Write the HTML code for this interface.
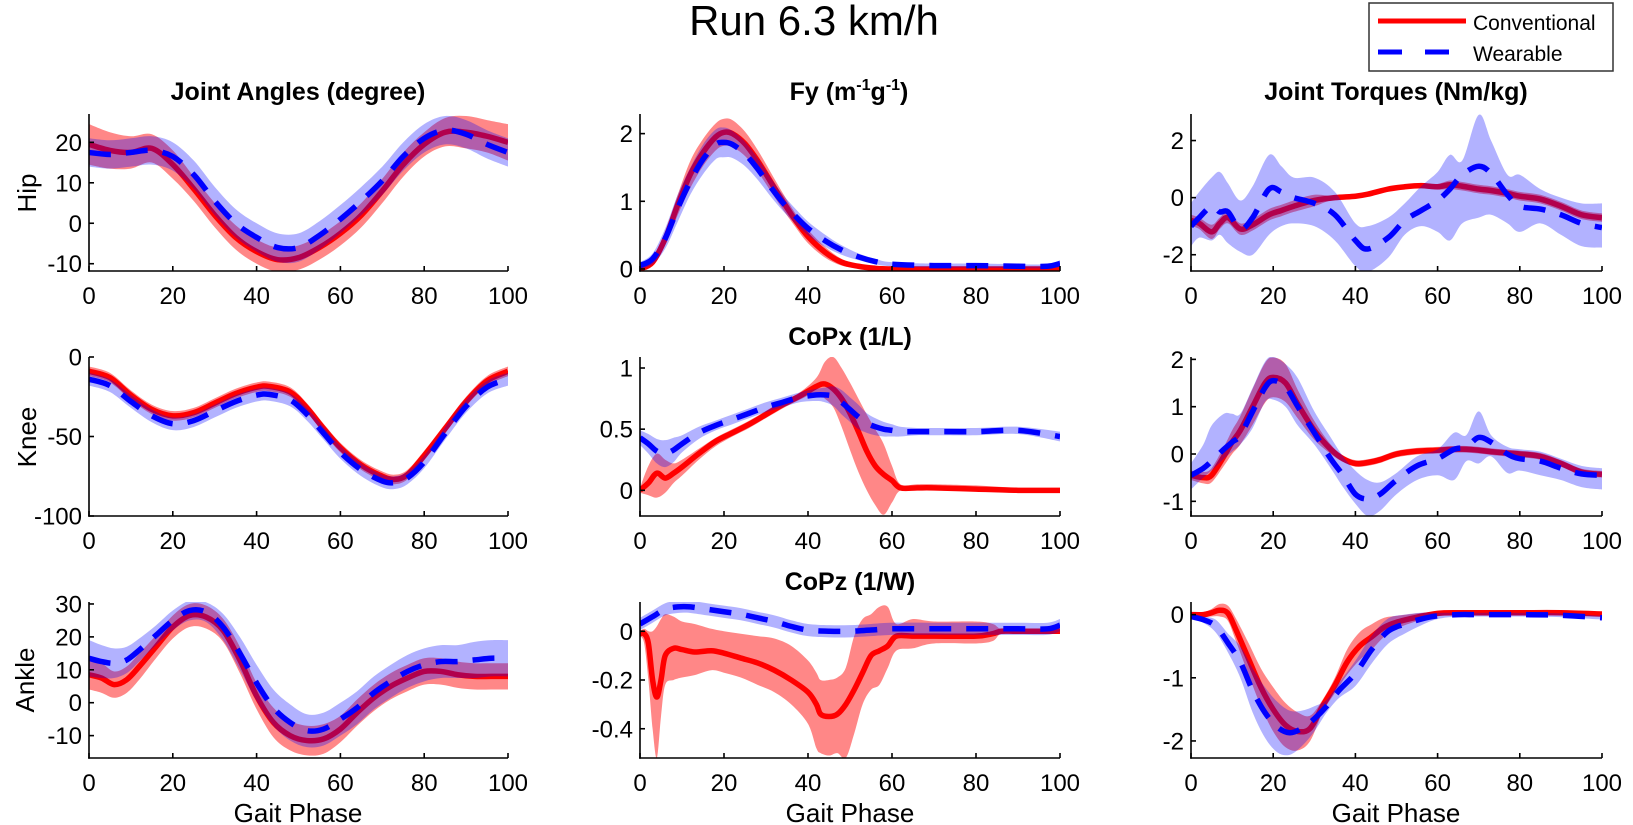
<!DOCTYPE html>
<html><head><meta charset="utf-8"><title>Run 6.3 km/h</title>
<style>
html,body{margin:0;padding:0;background:#fff;}
svg{display:block;font-family:"Liberation Sans",Arial,sans-serif;}
</style></head>
<body>
<svg id="fig" width="1633" height="825" viewBox="0 0 1633 825" xmlns="http://www.w3.org/2000/svg">
<rect x="0" y="0" width="1633" height="825" fill="#fff"/>
<text x="814" y="35" font-size="42" text-anchor="middle">Run 6.3 km/h</text>
<g>
<rect x="1369" y="3" width="244" height="68" fill="#fff" stroke="#333" stroke-width="1.5"/>
<line x1="1378" y1="21" x2="1466" y2="21" stroke="#ff0000" stroke-width="5"/>
<text x="1473" y="30" font-size="21">Conventional</text>
<line x1="1378" y1="52" x2="1466" y2="52" stroke="#0000ff" stroke-width="5" stroke-dasharray="24 23"/>
<text x="1473" y="61" font-size="21">Wearable</text>
</g>
<text x="298" y="100" font-size="25" font-weight="bold" text-anchor="middle">Joint Angles (degree)</text>
<text x="849" y="100" font-size="25" font-weight="bold" text-anchor="middle">Fy (m<tspan font-size="16" dy="-10">-1</tspan><tspan dy="10">g</tspan><tspan font-size="16" dy="-10">-1</tspan><tspan dy="10">)</tspan></text>
<text x="1396" y="100" font-size="25" font-weight="bold" text-anchor="middle">Joint Torques (Nm/kg)</text>
<text x="850" y="345" font-size="25" font-weight="bold" text-anchor="middle">CoPx (1/L)</text>
<text x="850" y="590" font-size="25" font-weight="bold" text-anchor="middle">CoPz (1/W)</text>
<text transform="translate(27,193) rotate(-90)" font-size="26" text-anchor="middle" dominant-baseline="central">Hip</text>
<text transform="translate(27,437) rotate(-90)" font-size="26" text-anchor="middle" dominant-baseline="central">Knee</text>
<text transform="translate(25,680) rotate(-90)" font-size="26" text-anchor="middle" dominant-baseline="central">Ankle</text>
<text x="298" y="822" font-size="26" text-anchor="middle">Gait Phase</text>
<text x="850" y="822" font-size="26" text-anchor="middle">Gait Phase</text>
<text x="1396" y="822" font-size="26" text-anchor="middle">Gait Phase</text>
</svg>
<script>
// ---------- data ----------
const xTicks = [0,20,40,60,80,100];

// Hip angle
const hipAngX = [0,5,10,15,20,25,30,35,40,45,50,55,60,65,70,75,80,85,90,95,100];
const hipAngConvMean = [19.5,18,17.5,18.5,14.5,8.5,2,-3.5,-7,-9,-8.5,-6,-2.5,2,8,14.5,19.5,22.5,22.5,21.5,20];
const hipAngConvSd = [5,4.5,4,3.5,3.5,3,3,3,3,3,3,3,3,3,3,3,3,3.5,4,4,4.5];
const hipAngWearMean = [17.5,17,17.5,18,16.5,12,5.5,0,-3.5,-6,-6,-3,1,5.5,10.5,16.5,21,23,22,19.5,17.5];
const hipAngWearSd = [3.5,3.5,3.5,3.5,3.5,3.5,3.5,3.5,3.5,3.5,3.5,3.5,3.5,3.5,3.5,3.5,3.5,3.5,3.5,3.5,3.5];
const hipAngTicks = [-10,0,10,20];

// Fy
const fyX = [0,3,6,9,12,15,18,20,22,25,28,31,34,37,40,44,48,52,56,60,70,80,90,97,100];
const fyConvMean = [0,0.1,0.45,0.95,1.4,1.72,1.95,2.02,2.0,1.85,1.6,1.3,1.0,0.72,0.48,0.25,0.1,0.04,0.01,0,0,0,0,0,0];
const fyConvSd = [0.02,0.05,0.1,0.15,0.2,0.2,0.2,0.2,0.2,0.18,0.16,0.14,0.12,0.1,0.1,0.08,0.05,0.03,0.02,0.01,0.01,0.01,0.01,0.01,0.01];
const fyWearMean = [0.05,0.15,0.45,0.9,1.3,1.62,1.84,1.87,1.84,1.7,1.48,1.22,0.98,0.78,0.6,0.42,0.28,0.18,0.11,0.07,0.05,0.05,0.04,0.04,0.08];
const fyWearSd = [0.05,0.08,0.15,0.2,0.2,0.22,0.22,0.22,0.2,0.18,0.16,0.14,0.12,0.11,0.1,0.09,0.07,0.05,0.04,0.03,0.03,0.03,0.03,0.03,0.05];
const fyTicks = [0,1,2];

// Hip torque
const hipTqX = [0,2,5,7,9,12,15,19,22,25,30,35,40,43,48,52,56,60,63,66,70,73,77,80,85,90,95,100];
const hipTqConvMean = [-0.8,-0.9,-1.2,-0.9,-0.7,-1.1,-0.95,-0.6,-0.45,-0.3,-0.1,0,0.05,0.12,0.3,0.38,0.42,0.38,0.45,0.4,0.3,0.25,0.15,0.05,-0.05,-0.3,-0.6,-0.7];
const hipTqConvSd = [0.2,0.2,0.25,0.2,0.2,0.2,0.2,0.2,0.2,0.2,0.2,0.05,0.05,0.05,0.05,0.05,0.05,0.1,0.15,0.15,0.15,0.15,0.15,0.15,0.15,0.15,0.15,0.15];
const hipTqWearMean = [-1.0,-0.7,-0.3,-0.5,-0.5,-1.1,-0.7,0.3,0.2,0.0,-0.2,-0.6,-1.5,-1.8,-1.4,-0.8,-0.45,-0.1,0.3,0.8,1.1,0.85,0.1,-0.3,-0.4,-0.6,-0.9,-1.05];
const hipTqWearHi = [-0.2,0.2,0.7,0.9,0.5,-0.1,0.4,1.5,1.1,0.7,0.7,0.2,-0.9,-1.0,-0.7,-0.2,0.4,0.9,1.5,1.3,2.9,2.0,0.8,0.8,0.3,0.0,-0.2,-0.2];
const hipTqWearLo = [-1.7,-1.4,-1.5,-1.3,-1.6,-1.9,-2.0,-1.3,-1.0,-0.9,-1.0,-1.5,-2.4,-2.6,-2.1,-1.3,-1.0,-1.2,-1.5,-0.9,-0.7,-0.6,-0.9,-1.2,-0.9,-1.3,-1.7,-1.75];
const hipTqTicks = [-2,0,2];

// Knee angle
const kneeAngX = [0,5,10,15,20,25,30,35,40,43,48,52,56,60,65,70,73,76,80,85,90,95,100];
const kneeAngConvMean = [-9,-13,-24,-33,-37,-35,-29,-23,-19,-18.5,-22,-32,-45,-57,-68,-75,-77,-74,-62,-45,-28,-15,-9];
const kneeAngConvSd = [3,3,3,3,3,3,3,3,3,3,3,3,3,3,3,3,3,3,3,3,3,3,3];
const kneeAngWearMean = [-14,-18,-28,-37,-42,-40,-34,-28,-24,-23.5,-27,-36,-48,-60,-71,-78,-79,-76,-66,-48,-31,-19,-14];
const kneeAngWearSd = [4,4,4,4,4,4,4,4,4,4,4,4,4,4,4,4,4,4,4,4,4,4,4];
const kneeAngTicks = [-100,-50,0];

// CoPx
const copxX = [0,2,4,6,8,10,14,18,22,26,30,34,38,42,44,46,48,50,52,54,56,58,60,62,66,70,80,90,100];
const copxConvMean = [0,0.06,0.14,0.1,0.14,0.19,0.3,0.4,0.47,0.54,0.62,0.7,0.77,0.85,0.87,0.83,0.75,0.63,0.48,0.32,0.2,0.13,0.08,0.02,0.02,0.02,0.01,0,0];
const copxConvHi = [0.02,0.2,0.3,0.25,0.22,0.25,0.34,0.43,0.5,0.57,0.65,0.73,0.8,0.92,1.05,1.09,1.0,0.88,0.75,0.62,0.5,0.38,0.2,0.05,0.05,0.05,0.04,0.02,0.02];
const copxConvLo = [-0.02,-0.04,-0.06,-0.02,0.06,0.12,0.25,0.36,0.44,0.51,0.59,0.67,0.74,0.8,0.75,0.68,0.52,0.33,0.15,0.0,-0.12,-0.2,-0.1,0,0,0,-0.01,-0.02,-0.02];
const copxWearMean = [0.43,0.38,0.32,0.3,0.33,0.38,0.47,0.53,0.58,0.63,0.68,0.72,0.76,0.78,0.78,0.77,0.72,0.66,0.6,0.55,0.52,0.5,0.49,0.48,0.48,0.48,0.48,0.49,0.44];
const copxWearSd = [0.06,0.08,0.1,0.11,0.1,0.07,0.05,0.04,0.04,0.04,0.04,0.04,0.04,0.05,0.06,0.08,0.1,0.1,0.1,0.08,0.07,0.06,0.05,0.04,0.03,0.03,0.03,0.03,0.04];
const copxTicks = [0,0.5,1];

// Knee torque
const kneeTqX = [0,3,5,8,10,12,15,18,20,23,26,30,34,37,40,43,46,50,55,60,64,67,70,73,77,80,85,90,95,100];
const kneeTqConvMean = [-0.45,-0.5,-0.45,-0.05,0.25,0.5,1.0,1.5,1.62,1.5,1.05,0.5,0.1,-0.1,-0.2,-0.18,-0.12,0.0,0.06,0.08,0.1,0.1,0.08,0.05,0.02,0.0,-0.05,-0.2,-0.38,-0.43];
const kneeTqConvSd = [0.1,0.12,0.15,0.2,0.25,0.3,0.38,0.42,0.42,0.4,0.3,0.2,0.1,0.07,0.07,0.07,0.07,0.07,0.07,0.07,0.07,0.07,0.07,0.07,0.07,0.07,0.07,0.07,0.07,0.07];
const kneeTqWearMean = [-0.45,-0.3,-0.15,0.1,0.25,0.4,0.9,1.4,1.55,1.42,1.0,0.45,-0.1,-0.45,-0.85,-0.95,-0.85,-0.55,-0.25,-0.1,0.1,0.15,0.35,0.25,0.0,-0.1,-0.15,-0.3,-0.42,-0.45];
const kneeTqWearHi = [-0.2,0.2,0.6,0.85,0.85,0.85,1.4,1.95,2.05,1.9,1.6,0.9,0.35,-0.05,-0.35,-0.55,-0.6,-0.4,-0.05,0.1,0.45,0.4,0.9,0.4,0.15,0.1,0.05,-0.1,-0.25,-0.3];
const kneeTqWearLo = [-0.75,-0.5,-0.35,-0.1,0.05,0.2,0.55,1.1,1.15,1.0,0.6,0.2,-0.3,-0.7,-1.05,-1.31,-1.2,-0.85,-0.55,-0.45,-0.55,-0.15,-0.2,-0.05,-0.4,-0.35,-0.45,-0.55,-0.7,-0.75];
const kneeTqTicks = [-1,0,1,2];

// Ankle angle
const ankAngX = [0,3,6,9,12,16,20,24,28,32,36,40,44,48,52,56,60,64,68,72,76,80,84,88,92,96,100];
const ankAngConvMean = [8.5,7.5,5.5,7,11,17,23,26.5,26,22,13,2,-6,-10,-11.5,-11,-8,-3,1.5,5,7.5,9.5,9.5,8.5,8,8,8];
const ankAngConvSd = [4.5,4.5,4,4,4,3.5,3.5,3.5,3.5,3.5,4,4,4.5,4.5,4.5,4.5,4,4,4,4,4,4,4,4,4,4,4];
const ankAngWearMean = [13.5,12.5,12,13,16,20.5,25,28,27.5,23,15,6,-1.5,-6,-8.5,-8,-5,-1.5,3,6.5,9.5,11.5,12.5,12.5,13,13.5,13.5];
const ankAngWearSd = [5.5,5,4.5,4,3.5,3,3,3,3,4,5,5.5,5.5,5.5,5,5,5,5,5,5,5,5,5,5,5.5,5.5,5.5];
const ankAngTicks = [-10,0,10,20,30];

// CoPz
const copzConvX = [0,1,2,3,4,5,6,8,10,13,17,20,24,28,32,36,40,42,43,45,47,49,51,53,55,57,59,61,65,70,80,84,86,90,100];
const copzConvMean = [-0.01,-0.01,-0.05,-0.2,-0.27,-0.2,-0.1,-0.07,-0.075,-0.085,-0.08,-0.09,-0.11,-0.13,-0.16,-0.2,-0.25,-0.3,-0.34,-0.35,-0.34,-0.3,-0.24,-0.17,-0.1,-0.08,-0.06,-0.02,-0.02,-0.02,-0.02,-0.01,0,0,0];
const copzConvHi = [0,0.01,0,0,0.02,0.05,0.07,0.06,0.04,0.03,0.01,0,-0.01,-0.02,-0.03,-0.06,-0.12,-0.17,-0.2,-0.2,-0.19,-0.15,-0.02,0.05,0.07,0.1,0.1,0.03,0.05,0.04,0.04,0.03,0.01,0.01,0.01];
const copzConvLo = [-0.02,-0.05,-0.2,-0.4,-0.52,-0.35,-0.22,-0.2,-0.19,-0.18,-0.16,-0.17,-0.19,-0.22,-0.25,-0.3,-0.38,-0.48,-0.5,-0.51,-0.5,-0.52,-0.42,-0.3,-0.24,-0.22,-0.15,-0.08,-0.07,-0.05,-0.05,-0.04,-0.01,-0.01,-0.01];
const copzWearX = [0,3,6,9,12,16,20,24,28,32,36,40,45,50,55,60,70,80,90,97,100];
const copzWearMean = [0.03,0.06,0.09,0.1,0.1,0.09,0.08,0.07,0.055,0.04,0.02,0.005,0,0,0.005,0.01,0.01,0.01,0.01,0.01,0.025];
const copzWearSd = [0.025,0.025,0.025,0.025,0.025,0.025,0.025,0.025,0.025,0.025,0.025,0.025,0.025,0.025,0.025,0.025,0.025,0.025,0.025,0.025,0.025];
const copzTicks = [-0.4,-0.2,0];

// Ankle torque
const ankTqConvX = [0,3,5,7,9,11,14,17,20,23,26,29,32,35,38,41,44,47,50,55,60,65,70,80,90,100];
const ankTqConvMean = [0,0,0.03,0.07,0.02,-0.25,-0.7,-1.15,-1.5,-1.75,-1.85,-1.8,-1.45,-1.12,-0.75,-0.5,-0.35,-0.2,-0.12,-0.04,0.02,0.03,0.03,0.03,0.03,0.01];
const ankTqConvSd = [0.03,0.04,0.06,0.1,0.12,0.18,0.25,0.3,0.35,0.35,0.3,0.2,0.1,0.12,0.2,0.22,0.2,0.15,0.1,0.06,0.03,0.03,0.03,0.03,0.03,0.03];
const ankTqWearX = [0,3,6,9,12,15,18,21,24,27,30,33,36,40,44,48,52,56,60,65,70,80,90,100];
const ankTqWearMean = [-0.03,-0.08,-0.18,-0.45,-0.75,-1.2,-1.55,-1.78,-1.87,-1.8,-1.65,-1.45,-1.2,-0.93,-0.55,-0.26,-0.15,-0.07,-0.02,0,0,0,-0.01,-0.05];
const ankTqWearSd = [0.03,0.05,0.1,0.15,0.25,0.35,0.4,0.4,0.35,0.28,0.2,0.1,0.12,0.2,0.22,0.2,0.15,0.1,0.05,0.03,0.03,0.03,0.03,0.03];
const ankTqTicks = [-2,-1,0];

// ---------- layout ----------
const COLS = [[89,508],[640,1060],[1191,1602]];
const ROWS = [[114,271],[357,516],[602,758]];
const panels = [
 {name:'hip-angle', c:0, r:0, y:[-11.8,27.0], ticks:hipAngTicks,
  conv:{x:hipAngX, m:hipAngConvMean, sd:hipAngConvSd}, wear:{x:hipAngX, m:hipAngWearMean, sd:hipAngWearSd}},
 {name:'fy', c:1, r:0, y:[-0.03,2.29], ticks:fyTicks,
  conv:{x:fyX, m:fyConvMean, sd:fyConvSd}, wear:{x:fyX, m:fyWearMean, sd:fyWearSd}},
 {name:'hip-torque', c:2, r:0, y:[-2.57,2.93], ticks:hipTqTicks,
  conv:{x:hipTqX, m:hipTqConvMean, sd:hipTqConvSd}, wear:{x:hipTqX, m:hipTqWearMean, lo:hipTqWearLo, hi:hipTqWearHi}},
 {name:'knee-angle', c:0, r:1, y:[-100,0], ticks:kneeAngTicks,
  conv:{x:kneeAngX, m:kneeAngConvMean, sd:kneeAngConvSd}, wear:{x:kneeAngX, m:kneeAngWearMean, sd:kneeAngWearSd}},
 {name:'copx', c:1, r:1, y:[-0.21,1.09], ticks:copxTicks,
  conv:{x:copxX, m:copxConvMean, lo:copxConvLo, hi:copxConvHi}, wear:{x:copxX, m:copxWearMean, sd:copxWearSd}},
 {name:'knee-torque', c:2, r:1, y:[-1.31,2.05], ticks:kneeTqTicks,
  conv:{x:kneeTqX, m:kneeTqConvMean, sd:kneeTqConvSd}, wear:{x:kneeTqX, m:kneeTqWearMean, lo:kneeTqWearLo, hi:kneeTqWearHi}},
 {name:'ankle-angle', c:0, r:2, y:[-16.8,30.6], ticks:ankAngTicks,
  conv:{x:ankAngX, m:ankAngConvMean, sd:ankAngConvSd}, wear:{x:ankAngX, m:ankAngWearMean, sd:ankAngWearSd}},
 {name:'copz', c:1, r:2, y:[-0.52,0.12], ticks:copzTicks,
  conv:{x:copzConvX, m:copzConvMean, lo:copzConvLo, hi:copzConvHi}, wear:{x:copzWearX, m:copzWearMean, sd:copzWearSd}},
 {name:'ankle-torque', c:2, r:2, y:[-2.27,0.2], ticks:ankTqTicks,
  conv:{x:ankTqConvX, m:ankTqConvMean, sd:ankTqConvSd}, wear:{x:ankTqWearX, m:ankTqWearMean, sd:ankTqWearSd}}
];

const NS = 'http://www.w3.org/2000/svg';
const svg = document.getElementById('fig');
const defs = document.createElementNS(NS,'defs');
svg.appendChild(defs);

function mk(tag, attrs, parent){
  const e = document.createElementNS(NS, tag);
  for (const k in attrs) e.setAttribute(k, attrs[k]);
  parent.appendChild(e);
  return e;
}
function crPath(pts, move){
  let d = move ? 'M'+pts[0][0].toFixed(2)+','+pts[0][1].toFixed(2) : 'L'+pts[0][0].toFixed(2)+','+pts[0][1].toFixed(2);
  for (let i=0;i<pts.length-1;i++){
    const p0=pts[Math.max(0,i-1)], p1=pts[i], p2=pts[i+1], p3=pts[Math.min(pts.length-1,i+2)];
    const c1x=p1[0]+(p2[0]-p0[0])/6, c1y=p1[1]+(p2[1]-p0[1])/6;
    const c2x=p2[0]-(p3[0]-p1[0])/6, c2y=p2[1]-(p3[1]-p1[1])/6;
    d+=' C'+c1x.toFixed(2)+','+c1y.toFixed(2)+' '+c2x.toFixed(2)+','+c2y.toFixed(2)+' '+p2[0].toFixed(2)+','+p2[1].toFixed(2);
  }
  return d;
}
function fmt(v){ return (Math.round(v*100)/100).toString(); }

panels.forEach((p, idx)=>{
  const [x0,x1] = COLS[p.c], [yT,yB] = ROWS[p.r];
  const sx = v => x0 + (v/100)*(x1-x0);
  const sy = v => yB - (v - p.y[0])/(p.y[1]-p.y[0])*(yB-yT);
  const g = mk('g', {}, svg);
  
  
  const cp = mk('clipPath', {id:'clip'+idx}, defs);
  mk('rect', {x:x0, y:yT, width:x1-x0, height:yB-yT}, cp);
  const plot = mk('g', {'clip-path':'url(#clip'+idx+')'}, g);
  
  

  function band(s, color, op, nm){
    const lo = s.lo ? s.lo : s.m.map((v,i)=>v - s.sd[i]);
    const hi = s.hi ? s.hi : s.m.map((v,i)=>v + s.sd[i]);
    const up = s.x.map((xv,i)=>[sx(xv), sy(hi[i])]);
    const dn = s.x.map((xv,i)=>[sx(xv), sy(lo[i])]).reverse();
    const d = crPath(up,true)+' '+crPath(dn,false)+' Z';
    const e = mk('path', {d:d, fill:color, 'fill-opacity':op, stroke:'none'}, plot);
    
    
  }
  function line(s, color, dash, nm){
    const pts = s.x.map((xv,i)=>[sx(xv), sy(s.m[i])]);
    const e = mk('path', {d:crPath(pts,true), fill:'none', stroke:color, 'stroke-width':5.5, 'stroke-linejoin':'round'}, plot);
    if (dash) e.setAttribute('stroke-dasharray', dash);
    
    
  }
  band(p.conv, '#ff0000', 0.47, 'conventional-band-'+p.name);
  line(p.conv, '#ff0000', null, 'conventional-line-'+p.name);
  band(p.wear, '#0000ff', 0.3, 'wearable-band-'+p.name);
  line(p.wear, '#0000ff', '22 15', 'wearable-line-'+p.name);

  // axes
  const ax = mk('g', {stroke:'#000', 'stroke-width':1.6}, g);
  
  
  const yl = mk('line', {x1:x0, y1:yT, x2:x0, y2:yB+0.8}, ax);
  
  
  const xl = mk('line', {x1:x0-0.8, y1:yB, x2:x1, y2:yB}, ax);
  
  
  xTicks.forEach(t=>{
    const X = sx(t);
    const tk = mk('line', {x1:X, y1:yB, x2:X, y2:yB-5}, ax);
    
    
    const tl = mk('text', {x:X, y:yB+33, 'font-size':24, 'text-anchor':'middle', fill:'#000', stroke:'none'}, g);
    tl.textContent = fmt(t);
    
    
  });
  p.ticks.forEach(t=>{
    const Y = sy(t);
    const tk = mk('line', {x1:x0, y1:Y, x2:x0+5, y2:Y}, ax);
    
    
    const tl = mk('text', {x:x0-7, y:Y+8.5, 'font-size':24, 'text-anchor':'end', fill:'#000', stroke:'none'}, g);
    tl.textContent = fmt(t);
    
    
  });
});
</script>
</body></html>
